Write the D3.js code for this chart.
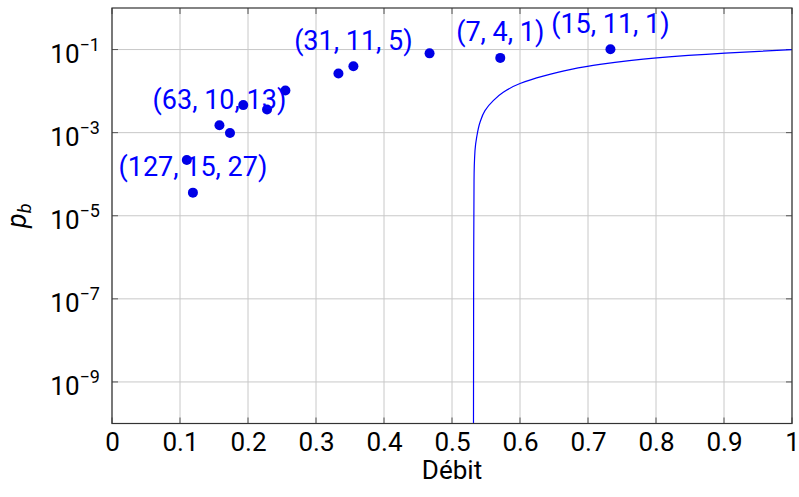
<!DOCTYPE html>
<html>
<head>
<meta charset="utf-8">
<script src="https://cdn.jsdelivr.net/npm/d3@7"></script>
<style>
  body { margin: 0; background: #fff; }
  svg text { font-family: Roboto, "DejaVu Sans", sans-serif; }
  .grid line { stroke: #c8c8c8; stroke-width: 1; }
</style>
</head>
<body>
<svg id="chart"></svg>
<script>
var width = 799;
var height = 497;
var margin = {left: 112, right: 7, top: 8, bottom: 73.5};

// codes: rate (Débit) vs bit error probability
var rates = [0.110, 0.119, 0.158, 0.1735, 0.193, 0.228, 0.255, 0.333, 0.355, 0.467, 0.571, 0.733];
var pbValues = [2.2e-4, 3.6e-5, 1.5e-3, 9.8e-4, 4.6e-3, 3.6e-3, 1.03e-2, 2.64e-2, 3.97e-2, 8.1e-2, 6.3e-2, 1.02e-1];

// which points carry a label
var codeLabels = ["(127, 15, 27)", "(63, 10, 13)", "(31, 11, 5)", "(7, 4, 1)", "(15, 11, 1)"];
var labelIdx = [1, 2, 8, 10, 11];

// limit curve
var boundRate = [0.5316, 0.5318, 0.5324, 0.5338, 0.5363, 0.5412, 0.5485, 0.5607, 0.5754, 0.600, 0.634, 0.6735, 0.7176, 0.801, 0.9015, 1.0];
var boundPb = [1e-10, 1e-7, 7e-5, 3.7e-4, 7.8e-4, 1.78e-3, 3.4e-3, 5.9e-3, 9.4e-3, 1.52e-2, 2.3e-2, 3.3e-2, 4.4e-2, 6.3e-2, 8.2e-2, 1.0e-1];

var xTicks = [0, 0.1, 0.2, 0.3, 0.4, 0.5, 0.6, 0.7, 0.8, 0.9, 1];
var xTickLabels = ["0", "0.1", "0.2", "0.3", "0.4", "0.5", "0.6", "0.7", "0.8", "0.9", "1"];
var yTicks = [1e-1, 1e-3, 1e-5, 1e-7, 1e-9];
var yTickExp = ["\u22121", "\u22123", "\u22125", "\u22127", "\u22129"];

var w = width - margin.left - margin.right;
var h = height - margin.top - margin.bottom;

var x = d3.scaleLinear().domain([0, 1]).range([0, w]);
var y = d3.scaleLog().domain([1e-10, 1]).range([h, 0]);

var svg = d3.select("#chart")
    .attr("width", width)
    .attr("height", height);

var chart = svg.append("g")
    .attr("transform", "translate(" + margin.left + "," + margin.top + ")");

chart.append("clipPath").attr("id", "clip")
  .append("rect").attr("width", w).attr("height", h);

// grid
var grid = chart.append("g").attr("class", "grid");
grid.selectAll(".gx").data(xTicks).enter().append("line")
    .attr("x1", function(d) { return x(d); })
    .attr("x2", function(d) { return x(d); })
    .attr("y1", 0).attr("y2", h);
grid.selectAll(".gy").data(yTicks).enter().append("line")
    .attr("y1", function(d) { return y(d); })
    .attr("y2", function(d) { return y(d); })
    .attr("x1", 0).attr("x2", w);

// tick marks on all four sides, pointing inward
var tickG = chart.append("g").attr("stroke", "#555").attr("stroke-width", 1);
xTicks.forEach(function(d) {
    tickG.append("line").attr("x1", x(d)).attr("x2", x(d)).attr("y1", h).attr("y2", h - 6);
    tickG.append("line").attr("x1", x(d)).attr("x2", x(d)).attr("y1", 0).attr("y2", 6);
});
yTicks.forEach(function(d) {
    tickG.append("line").attr("y1", y(d)).attr("y2", y(d)).attr("x1", 0).attr("x2", 6);
    tickG.append("line").attr("y1", y(d)).attr("y2", y(d)).attr("x1", w).attr("x2", w - 6);
});

// x tick labels via axis
var xAxis = chart.append("g")
    .attr("transform", "translate(0," + h + ")")
    .call(d3.axisBottom(x)
        .tickValues(xTicks)
        .tickSize(0)
        .tickPadding(9)
        .tickFormat(function(d, i) { return xTickLabels[i]; }));
xAxis.select(".domain").remove();
xAxis.selectAll("text")
    .attr("fill", "#000")
    .style("font-size", "26px");

// y tick labels 10^k
var yl = chart.append("g").selectAll("text").data(yTicks).enter().append("text")
    .attr("x", -12)
    .attr("y", function(d) { return y(d) + 13; })
    .attr("text-anchor", "end")
    .attr("fill", "#000");
yl.append("tspan").style("font-size", "26px").text("10");
yl.append("tspan").style("font-size", "18px").attr("dy", -12)
    .text(function(d, i) { return yTickExp[i]; });

// limit curve
var line = d3.line()
    .x(function(d) { return x(d[0]); })
    .y(function(d) { return y(d[1]); })
    .curve(d3.curveMonotoneY);

chart.append("path")
    .datum(d3.zip(boundRate, boundPb))
    .attr("clip-path", "url(#clip)")
    .attr("fill", "none")
    .attr("stroke", "blue")
    .attr("stroke-width", 1.2)
    .attr("d", line);

// frame
chart.append("rect")
    .attr("width", w).attr("height", h)
    .attr("fill", "none")
    .attr("stroke", "#333")
    .attr("stroke-width", 1.2);

// points
chart.selectAll(".dot").data(d3.zip(rates, pbValues)).enter().append("circle")
    .attr("cx", function(d) { return x(d[0]); })
    .attr("cy", function(d) { return y(d[1]); })
    .attr("r", 5)
    .attr("fill", "#0000e6");

// labels above points
chart.selectAll(".lbl").data(codeLabels).enter().append("text")
    .attr("x", function(d, i) { return x(rates[labelIdx[i]]); })
    .attr("y", function(d, i) { return y(pbValues[labelIdx[i]]) - 16.5; })
    .attr("text-anchor", "middle")
    .attr("fill", "blue")
    .style("font-size", "27px")
    .text(function(d) { return d; });

// axis titles
svg.append("text")
    .attr("x", margin.left + w / 2)
    .attr("y", 479)
    .attr("text-anchor", "middle")
    .style("font-size", "26px")
    .text("Débit");

var yt = svg.append("text")
    .attr("transform", "translate(26," + (margin.top + h / 2) + ") rotate(-90)")
    .attr("text-anchor", "middle");
yt.append("tspan").style("font-size", "27px").style("font-style", "italic").text("p");
yt.append("tspan").style("font-size", "18px").style("font-style", "italic").attr("dy", 5).text("b");
</script>
</body>
</html>
